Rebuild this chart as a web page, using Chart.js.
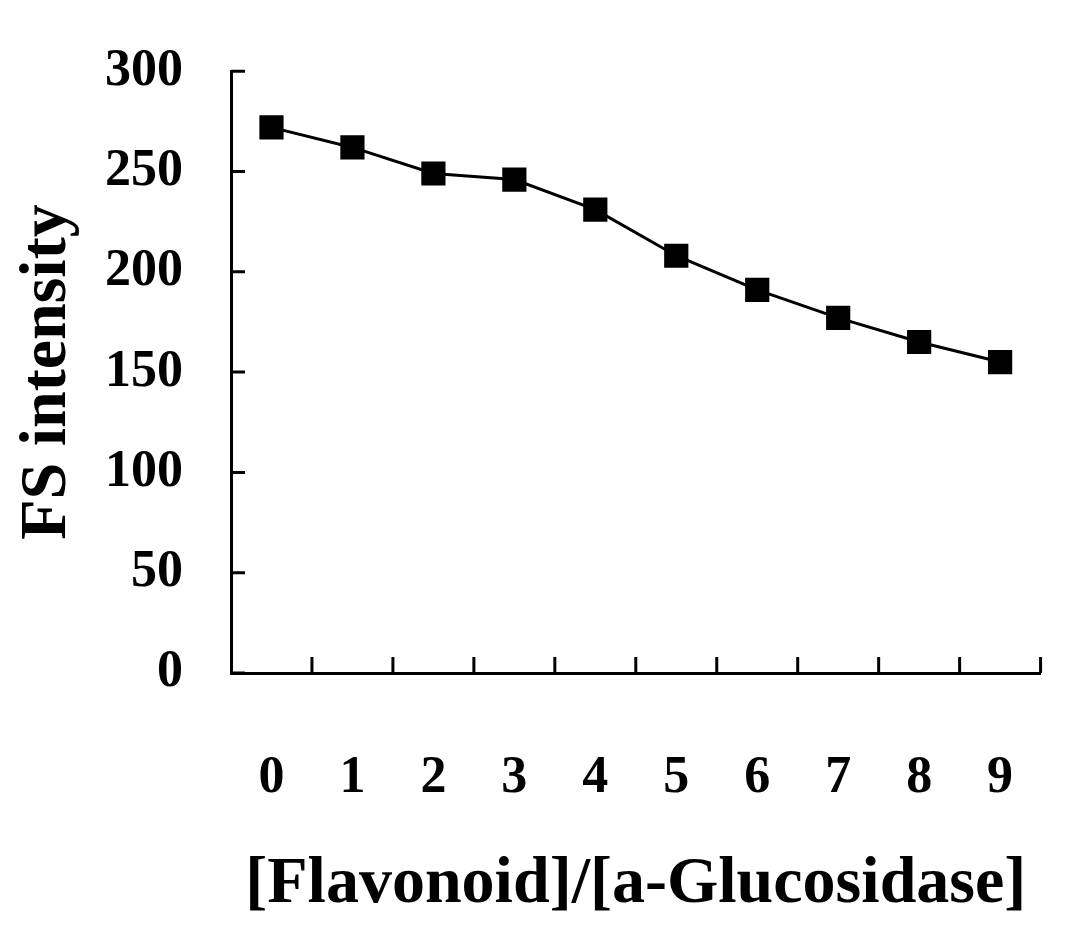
<!DOCTYPE html>
<html><head><meta charset="utf-8">
<script src="https://cdn.jsdelivr.net/npm/chart.js@4.4.1/dist/chart.umd.min.js"></script>
<style>html,body{margin:0;background:#fff}#wrap{width:1080px;height:939px}</style>
</head><body><div id="wrap"><canvas id="c"></canvas></div>
<script>
const labels = ['0','1','2','3','4','5','6','7','8','9'];
const intensity = [272, 262, 249, 246, 231, 208, 191, 177, 165, 155];
const yTicks = [0, 50, 100, 150, 200, 250, 300];

const font = (size) => ({ family: '"Liberation Serif", "Times New Roman", serif', size, weight: 'bold' });

// tick marks pointing into the plot, as in the original
const innerTicks = {
  id: 'innerTicks',
  afterDraw(chart) {
    const { ctx, scales: { x, y } } = chart;
    ctx.save();
    ctx.strokeStyle = '#000'; ctx.lineWidth = 3;
    ctx.beginPath();
    yTicks.forEach(v => { const py = y.getPixelForValue(v); ctx.moveTo(x.left, py); ctx.lineTo(x.left + 14, py); });
    const step = (x.right - x.left) / labels.length;
    for (let i = 1; i <= labels.length; i++) { const px = x.left + i * step; ctx.moveTo(px, y.bottom); ctx.lineTo(px, y.bottom - 16); }
    ctx.stroke();
    ctx.restore();
  }
};

new Chart(document.getElementById('c'), {
  type: 'line',
  data: { labels, datasets: [{
    data: intensity, borderColor: '#000', borderWidth: 3, backgroundColor: '#000',
    pointStyle: 'rect', pointRadius: 15, pointHoverRadius: 15, tension: 0
  }] },
  options: {
    responsive: true, maintainAspectRatio: false, animation: false,
    layout: { padding: { top: 4, right: 14 } },
    plugins: { legend: { display: false }, tooltip: { enabled: false } },
    scales: {
      x: {
        offset: true,
        grid: { display: false },
        border: { color: '#000', width: 3 },
        ticks: { color: '#000', font: font(52), padding: 66 },
        title: { display: true, text: '[Flavonoid]/[a-Glucosidase]', color: '#000', font: font(66), padding: { top: 0, bottom: 14 } },
        afterFit(s) { s.height = 266; }
      },
      y: {
        min: 0, max: 300,
        afterBuildTicks(s) { s.ticks = yTicks.map(v => ({ value: v })); },
        grid: { display: false },
        border: { color: '#000', width: 3 },
        ticks: { color: '#000', font: font(52), padding: 40 },
        title: { display: true, text: 'FS intensity', color: '#000', font: font(66), padding: { top: 8, bottom: 0 } },
        afterFit(s) { s.width = 231; }
      }
    }
  },
  plugins: [innerTicks]
});
</script></body></html>
